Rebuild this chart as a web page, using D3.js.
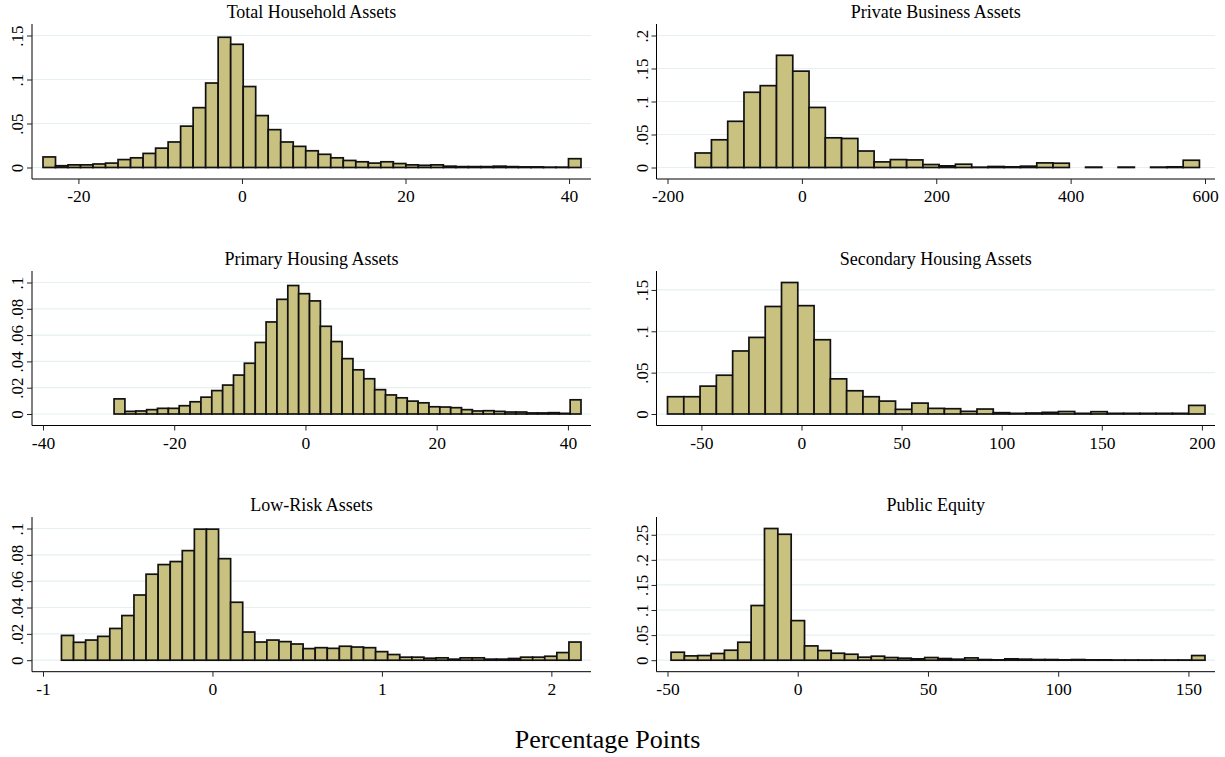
<!DOCTYPE html>
<html>
<head>
<meta charset="utf-8">
<script src="https://cdn.jsdelivr.net/npm/d3@7"></script>
<style>
  html, body { margin: 0; padding: 0; background: #fff; }
  svg { display: block; font-family: "Liberation Serif", "Times New Roman", serif; }
</style>
</head>
<body>
<div id="chart"></div>
<script>
// panel titles, in reading order
const titles = ["Total Household Assets", "Private Business Assets",
  "Primary Housing Assets", "Secondary Housing Assets",
  "Low-Risk Assets", "Public Equity"];

// left edge of the first bin and bin width, per panel
const binStart = [-24.33, -158.8, -29.17, -66.93, -0.891, -48.64];
const binWidth = [1.530, 24.21, 1.655, 8.136, 0.0713, 5.125];

// bin densities (0 = empty bin, not drawn)
const totalHousehold = [0.012, 0.002, 0.003, 0.003, 0.004, 0.005, 0.009, 0.011, 0.016, 0.022,
  0.029, 0.047, 0.068, 0.096, 0.148, 0.140, 0.092, 0.059, 0.043, 0.029,
  0.024, 0.019, 0.015, 0.011, 0.008, 0.0065, 0.005, 0.0065, 0.0045, 0.003,
  0.0025, 0.003, 0.0015, 0.001, 0.001, 0.001, 0.0015, 0.001, 0.0007, 0.0007,
  0.0004, 0.0004, 0.010];
const privateBusiness = [0.022, 0.042, 0.070, 0.114, 0.124, 0.170, 0.146, 0.091, 0.045, 0.044,
  0.025, 0.0085, 0.012, 0.0115, 0.0045, 0.0025, 0.005, 0.0005, 0.0015, 0.001,
  0.002, 0.007, 0.0065, 0, 0.0006, 0, 0.0006, 0, 0.0006, 0.001, 0.011];
const primaryHousing = [0.0115, 0.002, 0.0023, 0.0033, 0.0043, 0.0043, 0.0063, 0.0093, 0.0128, 0.0178,
  0.022, 0.0296, 0.0386, 0.0544, 0.070, 0.0872, 0.0977, 0.0915, 0.086, 0.0667,
  0.0551, 0.0421, 0.0336, 0.0268, 0.0185, 0.0145, 0.0123, 0.0098, 0.0085, 0.0055,
  0.0053, 0.0048, 0.0033, 0.0023, 0.0025, 0.002, 0.0015, 0.0015, 0.0008, 0.0008,
  0.001, 0.0005, 0.0108];
const secondaryHousing = [0.0209, 0.0209, 0.0337, 0.0469, 0.0762, 0.0926, 0.130, 0.159, 0.131, 0.0898,
  0.0425, 0.0281, 0.0209, 0.0156, 0.0056, 0.0132, 0.0068, 0.0064, 0.0032, 0.006,
  0.0016, 0.0008, 0.0012, 0.002, 0.003, 0.0008, 0.0028, 0.0008, 0.0008, 0.0008,
  0.0008, 0.0008, 0.0104];
const lowRisk = [0.0188, 0.0136, 0.0153, 0.0181, 0.0241, 0.0339, 0.0495, 0.0653, 0.0726, 0.0749,
  0.0832, 0.0995, 0.0995, 0.0771, 0.044, 0.0214, 0.0138, 0.0153, 0.0141, 0.0123,
  0.0088, 0.0095, 0.009, 0.0106, 0.010, 0.0095, 0.0065, 0.0043, 0.0023, 0.0023,
  0.0015, 0.0018, 0.0008, 0.0018, 0.0018, 0.0008, 0.0008, 0.0013, 0.0023, 0.0023,
  0.003, 0.0058, 0.0138];
const publicEquity = [0.0159, 0.0086, 0.0093, 0.0133, 0.0199, 0.0358, 0.109, 0.2625, 0.251, 0.0789,
  0.0285, 0.0192, 0.0139, 0.0119, 0.006, 0.008, 0.0053, 0.004, 0.0027, 0.0053,
  0.0033, 0.002, 0.0046, 0.0013, 0.0007, 0.0027, 0.002, 0.0013, 0.0013, 0.0007,
  0.0013, 0.0007, 0.0007, 0.0004, 0.0004, 0.0004, 0.0004, 0.0004, 0.0004, 0.0093];

// axis ticks
const xTicks = [[-20, 0, 20, 40], [-200, 0, 200, 400, 600], [-40, -20, 0, 20, 40],
  [-50, 0, 50, 100, 150, 200], [-1, 0, 1, 2], [-50, 0, 50, 100, 150]];
const yTicks = [[0, 0.05, 0.1, 0.15], [0, 0.05, 0.1, 0.15, 0.2], [0, 0.02, 0.04, 0.06, 0.08, 0.1],
  [0, 0.05, 0.1, 0.15], [0, 0.02, 0.04, 0.06, 0.08, 0.1], [0, 0.05, 0.1, 0.15, 0.2, 0.25]];

const xLabel = "Percentage Points";

const heights = [totalHousehold, privateBusiness, primaryHousing, secondaryHousing, lowRisk, publicEquity];

const W = 1225, H = 757;
const colX = [[32, 591], [656.5, 1215]];       // y-axis x, x-axis end
const rowY = [[24, 179], [271, 425.5], [517, 671.7]]; // axis top, axis bottom
const pad = 11;

const svg = d3.select("#chart").append("svg")
  .attr("width", W).attr("height", H);

// stata-style labels: plain hyphen, no leading zero
const fmtX = v => String(v);
const fmtY = v => v === 0 ? "0" : String(v).replace(/^0/, "");

heights.forEach((vals, p) => {
  const [ax, aEnd] = colX[p % 2];
  const [aTop, aBot] = rowY[Math.floor(p / 2)];
  const start = binStart[p], w = binWidth[p];
  const end = start + w * vals.length;
  const xt = xTicks[p], yt = yTicks[p];

  const x = d3.scaleLinear()
    .domain([Math.min(xt[0], start), Math.max(xt[xt.length - 1], end)])
    .range([ax + pad, aEnd - pad + 1]);
  const y = d3.scaleLinear()
    .domain([0, Math.max(d3.max(vals), yt[yt.length - 1])])
    .range([aBot - pad - 0.5, aTop + pad + 0.5]);

  const g = svg.append("g");

  // grid
  g.append("g").selectAll("line").data(yt).join("line")
    .attr("x1", ax).attr("x2", aEnd)
    .attr("y1", d => y(d)).attr("y2", d => y(d))
    .attr("stroke", "#e6eff2").attr("stroke-width", 1.2);

  // bars
  const bins = vals.map((v, i) => ({ x0: start + i * w, x1: start + (i + 1) * w, v }))
    .filter(d => d.v > 0);
  g.append("g").selectAll("rect").data(bins).join("rect")
    .attr("x", d => x(d.x0))
    .attr("width", d => x(d.x1) - x(d.x0))
    .attr("y", d => y(d.v))
    .attr("height", d => y(0) - y(d.v))
    .attr("fill", "#c9c17f")
    .attr("stroke", "#111")
    .attr("stroke-width", 1.7);

  // x axis
  const xa = g.append("g")
    .attr("transform", `translate(0,${aBot})`)
    .call(d3.axisBottom(x).tickValues(xt).tickSize(5).tickPadding(6).tickFormat(fmtX));
  xa.select(".domain").attr("d", `M${ax},0H${aEnd}`).attr("stroke", "#000");
  xa.selectAll(".tick line").attr("stroke", "#222");
  xa.selectAll(".tick text").attr("font-size", 17.5).attr("fill", "#000")
    .attr("font-family", "Liberation Serif");

  // y axis
  const ya = g.append("g")
    .attr("transform", `translate(${ax},0)`)
    .call(d3.axisLeft(y).tickValues(yt).tickSize(5).tickFormat(fmtY));
  ya.select(".domain").attr("d", `M0,${aTop}V${aBot}`).attr("stroke", "#000");
  ya.selectAll(".tick line").attr("stroke", "#222");
  ya.selectAll(".tick text")
    .attr("font-size", 17).attr("fill", "#000").attr("font-family", "Liberation Serif")
    .attr("x", null).attr("dy", null)
    .attr("text-anchor", "middle")
    .attr("transform", "translate(-9,0) rotate(-90)");

  // title
  g.append("text")
    .attr("x", (ax + aEnd) / 2).attr("y", aTop - 6.5)
    .attr("text-anchor", "middle")
    .attr("font-size", 18)
    .text(titles[p]);
});

svg.append("text")
  .attr("x", W / 2 - 5).attr("y", 748)
  .attr("text-anchor", "middle")
  .attr("font-size", 26)
  .text(xLabel);
</script>
</body>
</html>
